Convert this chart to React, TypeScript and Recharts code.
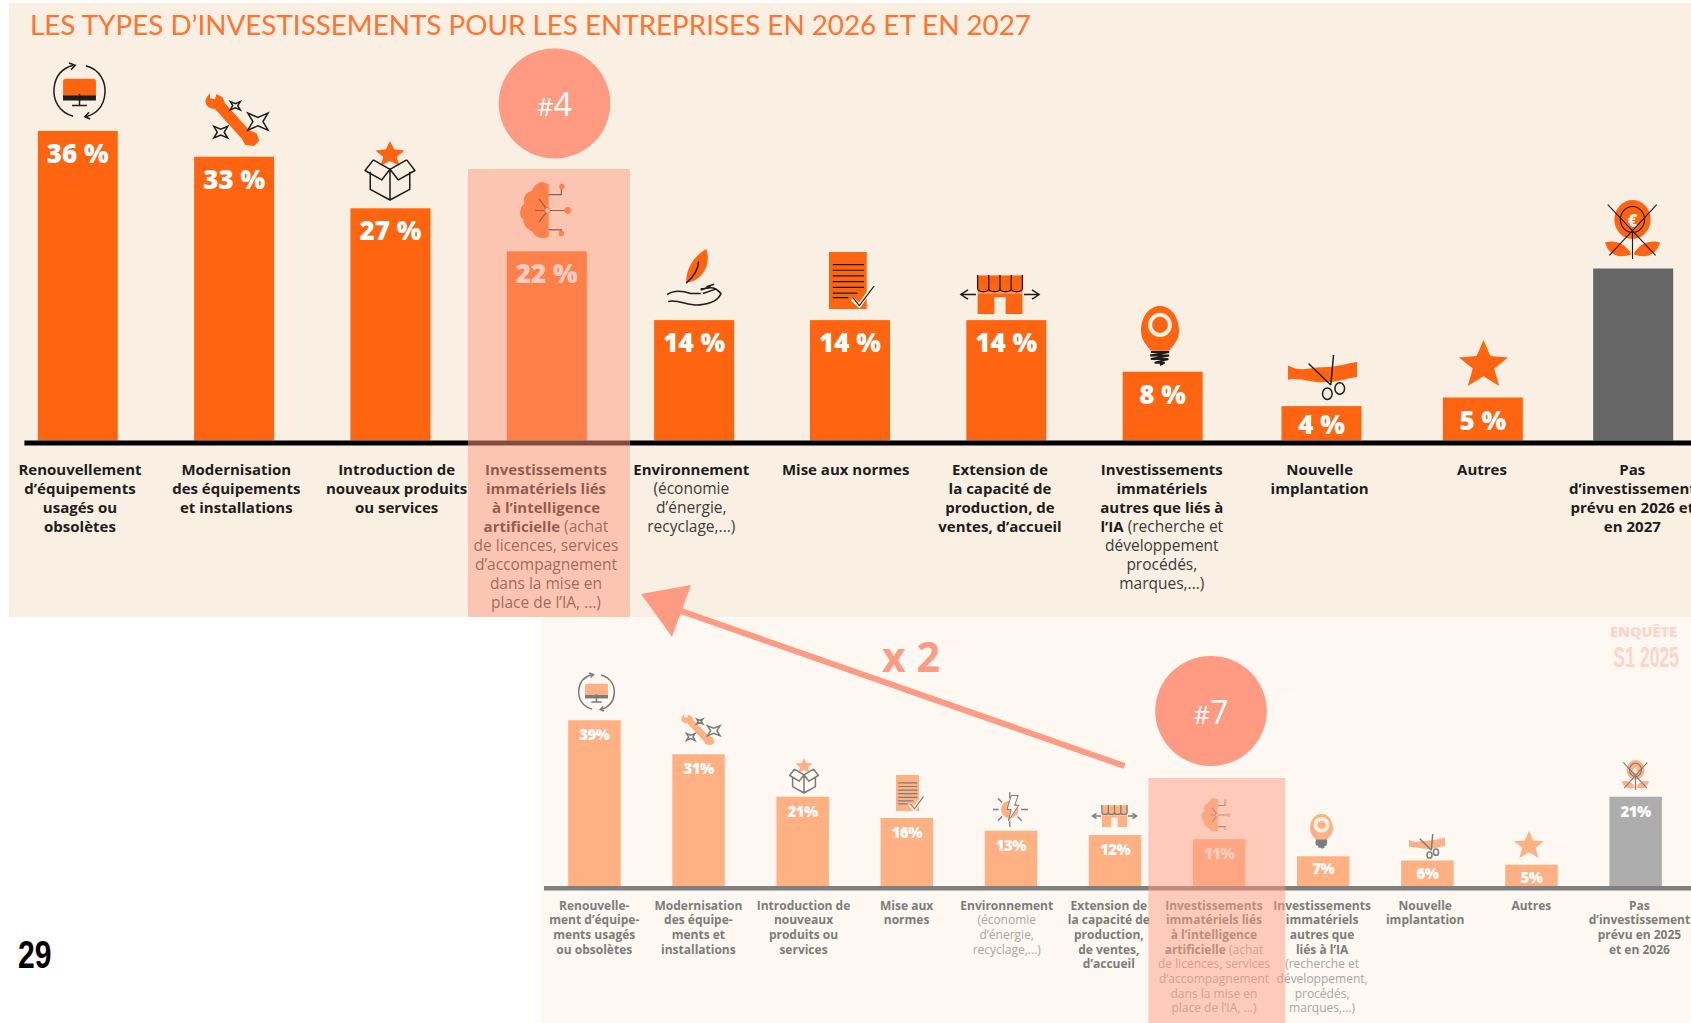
import React from "react";
import { BarChart, Bar, XAxis, YAxis, LabelList } from "recharts";

// Survey of the current wave (2026 / 2027)
const topCategories = [
  "Renouvellement",
  "Modernisation",
  "Introduction",
  "IA",
  "Environnement",
  "Normes",
  "Extension",
  "Immateriels",
  "Implantation",
  "Autres",
  "Pas d'investissement",
];
const topValues = [36, 33, 27, 22, 14, 14, 14, 8, 4, 5, 20];
// "|" splits the bold part from the regular part of a line
const topTickLines = [
  ["Renouvellement", "d’équipements", "usagés ou", "obsolètes"],
  ["Modernisation", "des équipements", "et installations"],
  ["Introduction de", "nouveaux produits", "ou services"],
  ["Investissements", "immatériels liés", "à l’intelligence", "artificielle| (achat", "|de licences, services", "|d’accompagnement", "|dans la mise en", "|place de l’IA, ...)"],
  ["Environnement", "|(économie", "|d’énergie,", "|recyclage,...)"],
  ["Mise aux normes"],
  ["Extension de", "la capacité de", "production, de", "ventes, d’accueil"],
  ["Investissements", "immatériels", "autres que liés à", "l’IA| (recherche et", "|développement", "|procédés,", "|marques,...)"],
  ["Nouvelle", "implantation"],
  ["Autres"],
  ["Pas", "d’investissement", "prévu en 2026 et", "en 2027"],
];

// Previous wave (S1 2025)
const bottomCategories = [
  "Renouvellement",
  "Modernisation",
  "Introduction",
  "Normes",
  "Environnement",
  "Extension",
  "IA",
  "Immateriels",
  "Implantation",
  "Autres",
  "Pas d'investissement",
];
const bottomValues = [39, 31, 21, 16, 13, 12, 11, 7, 6, 5, 21];
const bottomTickLines = [
  ["Renouvelle-", "ment d’équipe-", "ments usagés", "ou obsolètes"],
  ["Modernisation", "des équipe-", "ments et", "installations"],
  ["Introduction de", "nouveaux", "produits ou", "services"],
  ["Mise aux", "normes"],
  ["Environnement", "|(économie", "|d’énergie,", "|recyclage,...)"],
  ["Extension de", "la capacité de", "production,", "de ventes,", "d’accueil"],
  ["Investissements", "immatériels liés", "à l’intelligence", "artificielle| (achat", "|de licences, services", "|d’accompagnement", "|dans la mise en", "|place de l’IA, ...)"],
  ["Investissements", "immatériels", "autres que", "liés à l’IA", "|(recherche et", "|développement,", "|procédés,", "|marques,...)"],
  ["Nouvelle", "implantation"],
  ["Autres"],
  ["Pas", "d’investissement", "prévu en 2025", "et en 2026"],
];

const topData = topCategories.map((name, i) => ({ name, value: topValues[i] }));
const bottomData = bottomCategories.map((name, i) => ({ name, value: bottomValues[i] }));

// the original page does not space its columns quite evenly
const topBarNudge = [-0.5, 0.5, 1.5, 2.5, -5.5, -5, -4, -3, 0.5, 6.5, 1.5];
const topTickNudge = [2, 3, 8, 2, -8, -9, -10, -3.5, -1, 6, 1];
const bottomTickNudge = [0, 0, 1, 0, -4, -6, -5, -1, -2, 0, 4];

const ORANGE = "#FF6510";
const PEACH = "#FFB183";
const SALMON = "#FF9B82";
const FONT = "'Open Sans', sans-serif";

function TopBar(props: any) {
  const { x, y, width, height, index } = props;
  const last = index === topValues.length - 1;
  return <rect x={x + topBarNudge[index]} y={y} width={width} height={height} fill={last ? "#666666" : ORANGE} />;
}

function BottomBar(props: any) {
  const { x, y, width, height, index } = props;
  const last = index === bottomValues.length - 1;
  return <rect x={x} y={y} width={width} height={height} fill={last ? "#ADADAD" : PEACH} />;
}

function TopLabel(props: any) {
  const { x, y, width, value, index } = props;
  if (index === topValues.length - 1) return null; // grey bar carries no number
  const dy = value === 4 ? 28 : 32;
  return (
    <text x={x + width / 2 + topBarNudge[index]} y={y + dy} textAnchor="middle" fill="#fff" fontFamily={FONT} fontWeight={800} fontSize={26}>
      {value} %
    </text>
  );
}

function BottomLabel(props: any) {
  const { x, y, width, value } = props;
  return (
    <text x={x + width / 2} y={y + (value < 8 ? 18 : 20)} textAnchor="middle" fill="#fff" fontFamily={FONT} fontWeight={800} fontSize={15} letterSpacing={-0.5}>
      {value}%
    </text>
  );
}

function MultiLineTick({ x, payload, lines, nudge, baseY, lineHeight, fontSize, regularSize, boldFill, regularFill }: any) {
  const rows: string[] = lines[payload.index];
  return (
    <text x={x + nudge[payload.index]} y={baseY} textAnchor="middle" fontFamily={FONT} fontSize={fontSize}>
      {rows.map((row, i) => {
        const [bold, regular] = row.split("|");
        return (
          <tspan key={i} x={x + nudge[payload.index]} y={baseY + i * lineHeight}>
            {bold && <tspan fontWeight={700} fill={boldFill}>{bold}</tspan>}
            {regular && <tspan fontWeight={400} fontSize={regularSize} fill={regularFill}>{regular}</tspan>}
          </tspan>
        );
      })}
    </text>
  );
}

// Pictograms, drawn in a 100x100 box stretched over [x0, y0, x1, y1]
function Box({ at, children }: any) {
  const [x0, y0, x1, y1] = at;
  return (
    <svg x={x0} y={y0} width={x1 - x0} height={y1 - y0} viewBox="0 0 100 100" preserveAspectRatio="none" overflow="visible">
      {children}
    </svg>
  );
}

const line = (ink: string, w = 1.5) => ({ fill: "none", stroke: ink, strokeWidth: w, vectorEffect: "non-scaling-stroke" as const });

function Sparkle({ cx, cy, r, ink }: any) {
  const k = r * 0.5;
  const d = `M${cx - r} ${cy - r}L${cx - k} ${cy}L${cx - r} ${cy + r}L${cx} ${cy + k}L${cx + r} ${cy + r}L${cx + k} ${cy}L${cx + r} ${cy - r}L${cx} ${cy - k}Z`;
  return <path d={d} {...line(ink)} />;
}

const IconMonitor = ({ at, a, ink }: any) => (
  <Box at={at}>
    <path d="M62 5C90 12 100 35 98 55C96 75 85 90 62 96" {...line(ink)} />
    <path d="M38 95C10 88 0 65 2 45C4 25 15 10 38 4" {...line(ink)} />
    <path d="M30 0L42 4L34 12M68 88L60 96L70 100" {...line(ink)} />
    <rect x="19" y="28" width="62" height="36" rx="5" fill={a} />
    <rect x="19" y="58" width="62" height="9" fill={ink} />
    <path d="M50 55V76M36 76H64" {...line(ink)} />
  </Box>
);
const IconWrench = ({ at, a, ink }: any) => (
  <Box at={at}>
    <path d="M8 0L2 10C-2 20 4 30 16 30L58 86L64 98L78 100L86 90L82 76L70 70L32 20L28 8L18 2L16 12L8 10Z" fill={a} />
    <Sparkle cx={48} cy={24} r={8} ink={ink} />
    <Sparkle cx={84} cy={54} r={16} ink={ink} />
    <Sparkle cx={25} cy={74} r={11} ink={ink} />
  </Box>
);
const IconBox = ({ at, a, ink }: any) => (
  <Box at={at}>
    <polygon points="50,0 58,14 78,16 63,27 68,42 50,34 32,42 37,27 22,16 42,14" fill={a} />
    <path d="M18 32L50 48L82 32M18 32L2 50L34 66L50 48L66 66L98 50L82 32M12 52V82L50 100L88 82V52M50 48V100" {...line(ink, 1.5)} strokeLinejoin="round" />
  </Box>
);
const IconBrain = ({ at, a, ink }: any) => (
  <Box at={at}>
    <path d="M44 0C30 2 26 12 24 16C10 18 8 30 10 38C0 44 0 62 8 66C8 80 20 84 26 88C34 100 48 100 56 96V4Z" fill={a} />
    <path d="M56 22H80V8M56 84H80V94M54 50H88M38 30L54 50L38 70M30 50H54" {...line(ink, 1.2)} />
    <circle cx="54" cy="50" r="5" fill="#fbd0bf" stroke={ink} strokeWidth="0.8" />
    <circle cx="81" cy="8" r="5" fill={a} />
    <circle cx="92" cy="50" r="6" fill={a} />
    <circle cx="80" cy="90" r="5" fill={a} />
  </Box>
);
const IconHand = ({ at, a, ink }: any) => (
  <Box at={at}>
    <path d="M72 0C50 12 36 34 36 58C44 60 60 54 70 36C76 24 76 10 72 0Z" fill={a} />
    <path d="M58 22C58 34 50 48 36 60" {...line(ink)} />
    <path d="M2 80C16 70 32 74 44 78L62 78M62 70C76 70 84 62 98 78C94 90 78 96 60 98C40 100 22 88 4 92" {...line(ink, 1.6)} />
    <path d="M62 72L80 66M66 78L90 70M72 66L86 62" {...line(ink)} />
  </Box>
);
const IconDoc = ({ at, a, ink }: any) => (
  <Box at={at}>
    <rect x="0" y="0" width="82" height="100" fill={a} />
    <path d="M8 22H76M8 32H76M8 42H76M8 52H76M8 62H76M8 72H62M8 80H42" {...line(ink, 1.2)} />
    <path d="M50 82L66 94L98 58" fill="none" stroke="#F9EFE3" strokeWidth={4} vectorEffect="non-scaling-stroke" />
    <path d="M52 80L66 94L98 60" {...line(ink, 1.1)} />
  </Box>
);
const IconShop = ({ at, a, ink }: any) => (
  <Box at={at}>
    <rect x="22" y="1" width="56" height="44" fill={a} />
    <path d="M22 0V34A7 9 0 0 0 36 34V0M36 34A7 9 0 0 0 50 34V0M50 34A7 9 0 0 0 64 34V0M64 34A7 9 0 0 0 78 34V0" {...line(ink, 1.3)} />
    <path d="M22 47H78V100H57V57H43V100H22Z" fill={a} />
    <path d="M20 50H2M10 38L1 50L10 62M80 50H98M90 38L99 50L90 62" {...line(ink, 1.4)} />
  </Box>
);
const IconBulb = ({ at, a, ink }: any) => (
  <Box at={at}>
    <path d="M50 0C78 0 100 18 100 42C100 58 86 66 74 76H26C14 66 0 58 0 42C0 18 22 0 50 0Z" fill={a} />
    <ellipse cx="50" cy="32" rx="26" ry="17" fill="none" stroke="#F9EFE3" strokeWidth={4} vectorEffect="non-scaling-stroke" />
    <path d="M26 78H74L24 84H74L26 90H72L36 96H62L50 100" fill="none" stroke={ink} strokeWidth={2} vectorEffect="non-scaling-stroke" />
  </Box>
);
const IconScissors = ({ at, a, ink }: any) => (
  <Box at={at}>
    <path d="M0 24C20 40 30 28 50 28C70 28 82 20 100 16V50C82 54 72 62 50 62C30 62 16 50 0 56Z" fill={a} />
    <path d="M30 20L62 68M66 0L62 68" {...line(ink)} />
    <ellipse cx="57" cy="88" rx="7" ry="13" {...line(ink)} />
    <ellipse cx="75" cy="76" rx="7" ry="13" {...line(ink)} />
  </Box>
);
const IconStar = ({ at, a }: any) => (
  <Box at={at}>
    <polygon points="50,0 64,35 100,38 72,62 82,100 50,79 18,100 28,62 0,38 36,35" fill={a} />
  </Box>
);
const IconPlant = ({ at, a, ink }: any) => (
  <Box at={at}>
    <circle cx="50" cy="33" r="33" fill={a} />
    <circle cx="50" cy="33" r="22" {...line(ink, 1.1)} />
    <text x="50" y="45" textAnchor="middle" fill="#F9EFE3" fontFamily={FONT} fontWeight={800} fontSize="30">€</text>
    <path d="M0 72C20 66 40 76 48 92C28 100 6 94 0 72ZM100 72C80 66 60 76 52 92C72 100 94 94 100 72Z" fill={a} />
    <path d="M50 55V100" {...line(ink, 1.1)} />
    <path d="M5 8L92 94M94 8L8 94" {...line(ink, 1.1)} />
  </Box>
);
const IconBolt = ({ at, a, ink }: any) => (
  <Box at={at}>
    <circle cx="48" cy="50" r="25" fill={a} />
    <polygon points="52,10 72,10 62,38 74,38 44,82 52,50 40,50" fill="#FDF8F2" stroke={ink} strokeWidth={1} vectorEffect="non-scaling-stroke" />
    <path d="M48 0V18M0 50H16M80 50H100M48 82V100M14 18L26 30M14 82L26 70M82 82L70 70" {...line(ink, 1.3)} />
  </Box>
);

function TopChart() {
  return (
    <BarChart
      width={1691}
      height={1023}
      data={topData}
      margin={{ top: 96.5, right: 0, bottom: 0, left: 24.4 }}
      style={{ position: "absolute", left: 0, top: 0 }}
    >
      <YAxis hide domain={[0, 40]} />
      <XAxis
        dataKey="name"
        height={582.5}
        interval={0}
        padding={{ left: -24.1, right: -18 }}
        tickLine={false}
        axisLine={{ stroke: "#000", strokeWidth: 5, transform: "translate(0 2.5)" }}
        tick={
          <MultiLineTick
            lines={topTickLines}
            nudge={topTickNudge}
            baseY={475}
            lineHeight={19}
            fontSize={15}
            regularSize={15.5}
            boldFill="#1d1d1b"
            regularFill="#3c3c3b"
          />
        }
      />
      <Bar dataKey="value" barSize={80} isAnimationActive={false} shape={<TopBar />}>
        <LabelList dataKey="value" content={<TopLabel />} />
      </Bar>
    </BarChart>
  );
}

function BottomChart() {
  return (
    <BarChart
      width={1691}
      height={1023}
      data={bottomData}
      margin={{ top: 716, right: 0, bottom: 0, left: 544 }}
      style={{ position: "absolute", left: 0, top: 0 }}
    >
      <YAxis hide domain={[0, 40]} />
      <XAxis
        dataKey="name"
        height={137}
        interval={0}
        padding={{ left: -1.8, right: 3.5 }}
        tickLine={false}
        axisLine={{ stroke: "#7F7F7F", strokeWidth: 4.6, transform: "translate(0 2.3)" }}
        tick={
          <MultiLineTick
            lines={bottomTickLines}
            nudge={bottomTickNudge}
            baseY={909.5}
            lineHeight={14.7}
            fontSize={12}
            regularSize={12}
            boldFill="#7C7C7C"
            regularFill="#A6A6A6"
          />
        }
      />
      <Bar dataKey="value" barSize={52.5} isAnimationActive={false} shape={<BottomBar />}>
        <LabelList dataKey="value" content={<BottomLabel />} />
      </Bar>
    </BarChart>
  );
}

export default function App() {
  const inkSoft = "#7C7C7C";
  return (
    <div style={{ position: "absolute", left: 0, top: 0, width: 1691, height: 1023, overflow: "hidden", background: "#fff" }}>
      <div style={{ position: "absolute", left: 9, top: 3, width: 1682, height: 614, background: "#F9EFE3" }} />
      <div style={{ position: "absolute", left: 541, top: 617, width: 1150, height: 406, background: "#FDF8F2" }} />
      <TopChart />
      <BottomChart />
      <svg width={1691} height={1023} style={{ position: "absolute", left: 0, top: 0 }}>
        <text x={30} y={35} fill="#FF7430" fontFamily="Lato, sans-serif" fontSize={26} textLength={1001} lengthAdjust="spacingAndGlyphs">
          LES TYPES D’INVESTISSEMENTS POUR LES ENTREPRISES EN 2026 ET EN 2027
        </text>

        <IconMonitor at={[53, 63, 106, 119]} a={ORANGE} ink="#1d1d1b" />
        <IconWrench at={[205, 93, 268, 146]} a={ORANGE} ink="#1d1d1b" />
        <IconBox at={[364, 141, 416, 200]} a={ORANGE} ink="#1d1d1b" />
        <IconBrain at={[519, 182, 572, 239]} a={ORANGE} ink="#1d1d1b" />
        <IconHand at={[666, 249, 722, 306]} a={ORANGE} ink="#1d1d1b" />
        <IconDoc at={[829, 252, 875, 309]} a={ORANGE} ink="#1d1d1b" />
        <IconShop at={[960, 275, 1040, 314]} a={ORANGE} ink="#1d1d1b" />
        <IconBulb at={[1141, 306, 1179, 365]} a={ORANGE} ink="#1d1d1b" />
        <IconScissors at={[1288, 355, 1357, 399]} a={ORANGE} ink="#1d1d1b" />
        <IconStar at={[1459, 340, 1508, 386]} a={ORANGE} />
        <IconPlant at={[1605, 200, 1660, 259]} a={ORANGE} ink="#1d1d1b" />

        <IconMonitor at={[578, 673, 615, 711]} a={PEACH} ink={inkSoft} />
        <IconWrench at={[681, 714, 720, 745]} a={PEACH} ink={inkSoft} />
        <IconBox at={[789, 758, 819, 793]} a={PEACH} ink={inkSoft} />
        <IconDoc at={[896, 775, 924, 811]} a={PEACH} ink={inkSoft} />
        <IconBolt at={[993, 792, 1028, 827]} a={PEACH} ink={inkSoft} />
        <IconShop at={[1092, 805, 1137, 827]} a={PEACH} ink={inkSoft} />
        <IconBrain at={[1201, 798, 1231, 832]} a={PEACH} ink={inkSoft} />
        <IconBulb at={[1310, 814, 1333, 848]} a={PEACH} ink={inkSoft} />
        <IconScissors at={[1409, 834, 1445, 858]} a={PEACH} ink={inkSoft} />
        <IconStar at={[1514, 831, 1544, 858]} a={PEACH} />
        <IconPlant at={[1622, 760, 1649, 790]} a={PEACH} ink={inkSoft} />

        {/* highlight columns sit over the bars and the labels */}
        <rect x={468} y={169} width={162} height={448} fill={SALMON} opacity={0.5} />
        <rect x={1148.4} y={778} width={137} height={245} fill={SALMON} opacity={0.5} />

        <ellipse cx={554.5} cy={103.4} rx={55.8} ry={55} fill={SALMON} />
        <text x={554.5} y={116} textAnchor="middle" fill="#fff" fontFamily={FONT} fontSize={33} textLength={35} lengthAdjust="spacingAndGlyphs">
          <tspan fontSize={26}>#</tspan>4
        </text>
        <ellipse cx={1211} cy={711} rx={55.8} ry={55} fill={SALMON} />
        <text x={1211} y={724} textAnchor="middle" fill="#fff" fontFamily={FONT} fontSize={33} textLength={35} lengthAdjust="spacingAndGlyphs">
          <tspan fontSize={26}>#</tspan>7
        </text>

        <line x1={681} y1={611} x2={1124.5} y2={766} stroke={SALMON} strokeWidth={6} />
        <polygon points="641,594 691,585 672,637" fill={SALMON} />
        <text x={882} y={672} fill={SALMON} fontFamily={FONT} fontWeight={700} fontSize={42} textLength={58} lengthAdjust="spacingAndGlyphs">x 2</text>

        <text x={1610} y={637} fill="#FBD6C9" fontFamily={FONT} fontWeight={800} fontSize={14} textLength={67} lengthAdjust="spacingAndGlyphs">ENQUÊTE</text>
        <text x={1613.5} y={667} fill="#FBD6C9" fontFamily="'Liberation Sans', sans-serif" fontWeight={700} fontSize={30} textLength={65.5} lengthAdjust="spacingAndGlyphs">S1 2025</text>

        <text x={18} y={968} fill="#000" fontFamily="'Liberation Sans', sans-serif" fontWeight={700} fontSize={38} textLength={33.5} lengthAdjust="spacingAndGlyphs">29</text>
      </svg>
    </div>
  );
}
